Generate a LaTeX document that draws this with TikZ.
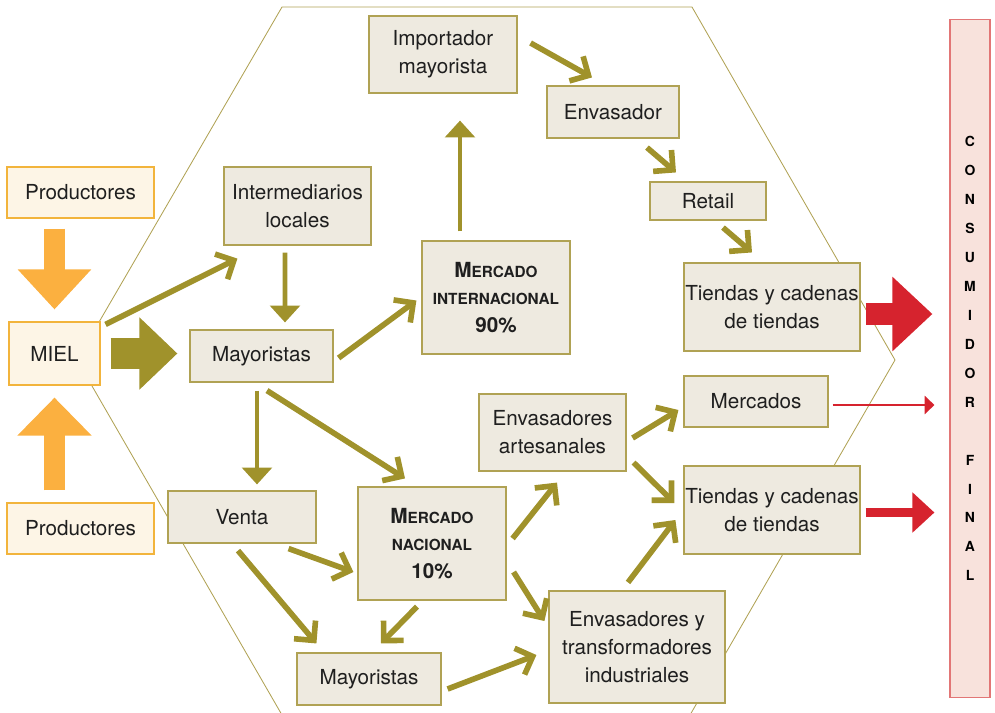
\documentclass[tikz,border=0pt]{standalone}
\usepackage{fontspec}
\setmainfont{TeX Gyre Heros}
\usepackage{xcolor}
\usetikzlibrary{arrows.meta}

\definecolor{oliva}{RGB}{160,146,43}
\definecolor{bordeoliva}{RGB}{176,162,84}
\definecolor{fondocaja}{RGB}{238,234,224}
\definecolor{naranja}{RGB}{251,176,64}
\definecolor{bordenaranja}{RGB}{242,180,60}
\definecolor{crema}{RGB}{253,245,230}
\definecolor{rojo}{RGB}{214,35,46}
\definecolor{rosa}{RGB}{248,226,220}
\definecolor{bordero}{RGB}{226,118,118}

\begin{document}
\begin{tikzpicture}[x=0.025cm,y=-0.025cm,
    caja/.style={draw=bordeoliva,fill=fondocaja,line width=0.8pt,inner sep=0pt,align=center,text=black!88,font=\fontsize{14.7}{19.8}\selectfont},
    cajaprod/.style={caja,draw=bordenaranja,fill=crema},
    flecha/.style={draw=oliva,line width=4pt,-{Straight Barb[length=10pt,width=20pt,line cap=butt,line join=miter]}},
    flechav/.style={draw=oliva,line width=3.5pt,-{Triangle[length=12pt,width=21pt]}},
    bloque/.style={line width=#1,line cap=butt}
    ]
    \useasboundingbox (0,0) rectangle (995,712);
    \draw[bordeoliva,line width=0.6pt] (282,715) -- (77,360) -- (282,7) -- (692,7) -- (895,360) -- (690,715);

    \node[cajaprod,minimum width=3.675cm,minimum height=1.275cm] (prod1) at (80.5,192.5) {Productores};
    \node[cajaprod,minimum width=2.275cm,minimum height=1.575cm] (miel) at (54.5,353.5) {MIEL};
    \node[cajaprod,minimum width=3.675cm,minimum height=1.275cm] (prod2) at (80.5,528.5) {Productores};

    \node[caja,minimum width=3.675cm,minimum height=1.95cm] (inter) at (297.5,206) {Intermediarios\\locales};
    \node[caja,minimum width=3.575cm,minimum height=1.3cm] (may1) at (261.5,356) {Mayoristas};
    \node[caja,minimum width=3.7cm,minimum height=1.3cm] (venta) at (242,517) {Venta};
    \node[caja,minimum width=3.7cm,minimum height=1.925cm] (import) at (443,54.5) {Importador\\mayorista};
    \node[caja,minimum width=3.3cm,minimum height=1.3cm] (envasador) at (613,112) {Envasador};
    \node[caja,minimum width=2.9cm,minimum height=0.95cm] (retail) at (708,201) {Retail};
    \node[caja,minimum width=4.4cm,minimum height=2.2cm] (tiendas1) at (772,307) {Tiendas y cadenas\\de tiendas};
    \node[caja,minimum width=3.7cm,minimum height=2.825cm] (mint) at (496,297.5) {\bfseries\fontsize{14.8}{20}\selectfont M\fontsize{10.9}{20}\selectfont ERCADO\\
        \bfseries\fontsize{10.9}{20}\selectfont INTERNACIONAL\\
        \bfseries\fontsize{14.7}{20}\selectfont 90\%};
    \node[caja,minimum width=3.7cm,minimum height=2.825cm] (mnac) at (432,543.5) {\bfseries\fontsize{14.8}{20}\selectfont M\fontsize{10.9}{20}\selectfont ERCADO\\
        \bfseries\fontsize{10.9}{20}\selectfont NACIONAL\\
        \bfseries\fontsize{14.7}{20}\selectfont 10\%};
    \node[caja,minimum width=3.675cm,minimum height=1.925cm] (envart) at (552.5,432.5) {Envasadores\\artesanales};
    \node[caja,minimum width=3.6cm,minimum height=1.275cm] (mercados) at (756,401.5) {Mercados};
    \node[caja,minimum width=4.4cm,minimum height=2.2cm] (tiendas2) at (772,510) {Tiendas y cadenas\\de tiendas};
    \node[caja,minimum width=4.4cm,minimum height=2.8cm] (envind) at (637,647) {Envasadores y\\transformadores\\industriales};
    \node[caja,minimum width=3.6cm,minimum height=1.3cm] (may2) at (369,679) {Mayoristas};
    \node[draw=bordero,fill=rosa,line width=0.8pt,minimum width=1cm,minimum height=16.925cm,inner sep=0pt,align=center,
        font=\fontsize{9.9}{20.6}\selectfont\bfseries] (consumidor) at (970,358.5) {C\\O\\N\\S\\U\\M\\I\\D\\O\\R\\[20.6pt]F\\I\\N\\A\\L};

    \draw[naranja,bloque=0.5cm,-{Triangle[length=1cm,width=1.775cm]},shorten <=0.25cm,shorten >=0.3cm] (miel.north |- prod1.south) -- (miel.north);
    \draw[naranja,bloque=0.5cm,-{Triangle[length=0.95cm,width=1.8cm]},shorten <=0.3cm,shorten >=0.3cm] (miel.south |- prod2.north) -- (miel.south);
    \draw[oliva,bloque=0.775cm,-{Triangle[length=0.95cm,width=1.75cm]},shorten <=0.25cm,shorten >=0.3cm] (miel.east) -- (miel.east -| may1.west);

    \draw[flecha] ([shift={(5,3)}]miel.north east) -- ([shift={(14,13)}]inter.south west);
    \draw[flechav] ([shift={(-12.5,7)}]inter.south) -- ([shift={(23.5,-7)}]may1.north);
    \draw[flecha] ([shift={(5,2)}]may1.east) -- ([shift={(-5,3)}]mint.west);
    \draw[flecha] ([shift={(5.5,8)}]may1.south) -- ([shift={(-27,-8)}]mnac.north);
    \draw[flechav] ([shift={(-4.5,8)}]may1.south) -- ([shift={(15,-6)}]venta.north);
    \draw[flecha] ([shift={(-28,5)}]venta.south east) -- ([shift={(-4,28.5)}]mnac.west);
    \draw[flecha] ([shift={(-4,7)}]venta.south) -- ([shift={(20,-9)}]may2.north west);
    \draw[flecha] ([shift={(-15,6)}]mnac.south) -- ([shift={(12,-9)}]may2.north);
    \draw[flecha] ([shift={(6,-5)}]mnac.east) -- ([shift={(4.5,11)}]envart.south);
    \draw[flecha] ([shift={(7,28.5)}]mnac.east) -- ([shift={(-4,-26)}]envind.west);
    \draw[flecha] ([shift={(6,10)}]may2.east) -- ([shift={(-12,8)}]envind.west);
    \draw[flecha] ([shift={(6,5.5)}]envart.east) -- ([shift={(-5,8.5)}]mercados.west);
    \draw[flecha] ([shift={(7,-9)}]envart.south east) -- ([shift={(-9,-7)}]tiendas2.west);
    \draw[flecha] ([shift={(-9,-8)}]envind.north) -- ([shift={(-8,10)}]tiendas2.west);
    \draw[flecha] ([shift={(13,-11.5)}]import.east) -- ([shift={(-21,-8)}]envasador.north);
    \draw[flecha] ([shift={(34,9)}]envasador.south) -- ([shift={(-32,-9)}]retail.north);
    \draw[flecha] ([shift={(15,7)}]retail.south) -- ([shift={(-20,-10)}]tiendas1.north);
    \draw[flechav] ([shift={(-36,-9)}]mint.north) -- ([shift={(17,27)}]import.south);

    \draw[rojo,bloque=0.55cm,-{Triangle[length=1cm,width=1.8cm]},shorten <=0.125cm,shorten >=0.425cm] (tiendas1.east |- 0,314) -- (consumidor.west |- 0,314);
    \draw[rojo,line width=1.5pt,-{Triangle[length=7pt,width=13pt]},shorten <=0.1cm,shorten >=0.375cm] (mercados.east |- 0,405) -- (consumidor.west |- 0,405);
    \draw[rojo,bloque=0.225cm,-{Triangle[length=0.55cm,width=0.975cm]},shorten <=0.125cm,shorten >=0.375cm] (tiendas2.east |- 0,512.5) -- (consumidor.west |- 0,512.5);
\end{tikzpicture}
\end{document}
